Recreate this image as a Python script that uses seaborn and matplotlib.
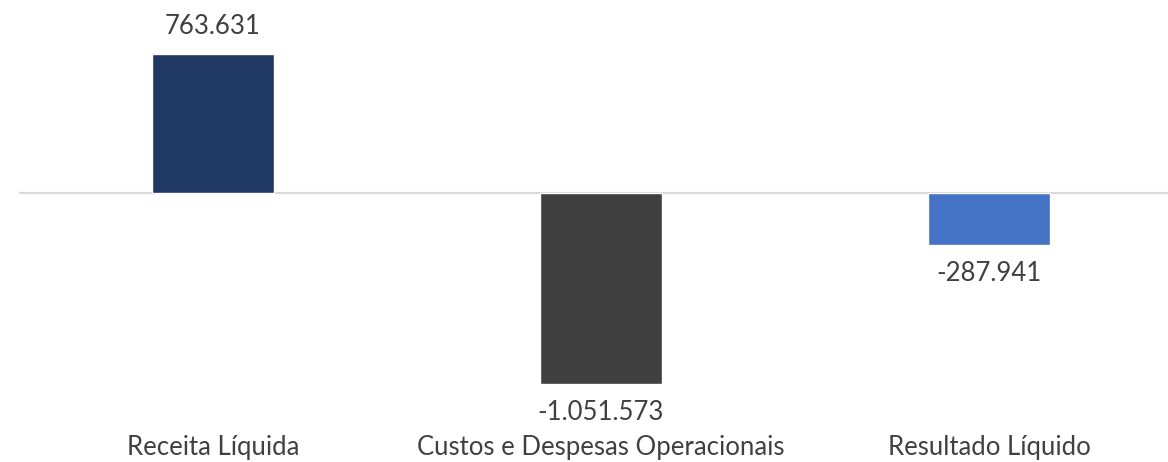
import matplotlib
matplotlib.use("Agg")
import matplotlib.pyplot as plt
import seaborn as sns
import pandas as pd

categories = ["Receita Líquida", "Custos e Despesas Operacionais", "Resultado Líquido"]
values = [763631, -1051573, -287941]
colors = ["#203864", "#404040", "#4472C4"]

text_color = "#404040"


def fmt(v):
    return f"{v:,}".replace(",", ".")


df = pd.DataFrame({"Categoria": categories, "Valor": values})

sns.set_theme(style="white")
plt.rcParams["font.family"] = ["Lato", "DejaVu Sans"]

fig = plt.figure(figsize=(11.68, 4.62), dpi=100)
# axes spans pixel rows 40..400, columns 19..1168
ax = fig.add_axes([19 / 1168, 1 - 400 / 462, 1149 / 1168, 360 / 462])

sns.barplot(data=df, x="Categoria", y="Valor", hue="Categoria",
            palette=colors, order=categories, width=0.314,
            legend=False, ax=ax, saturation=1)

# scale: zero line at 193px, 763631 -> 139px
k = 139 / 763631
ax.set_ylim(-(400 - 193) / k, (193 - 40) / k)
ax.set_xlim(-0.5, -0.5 + 1149 / 388)

ax.axhline(0, color="#d9d9d9", linewidth=1.6, zorder=0)

for i, v in enumerate(values):
    if v >= 0:
        ax.annotate(fmt(v), (i, v), xytext=(0, 11), textcoords="offset points",
                    ha="center", va="bottom", fontsize=18.5, color=text_color)
    else:
        ax.annotate(fmt(v), (i, v), xytext=(0, -11), textcoords="offset points",
                    ha="center", va="top", fontsize=18.5, color=text_color)

for s in ax.spines.values():
    s.set_visible(False)
ax.set_yticks([])
ax.set_xlabel("")
ax.set_ylabel("")
ax.tick_params(axis="x", length=0, pad=25, labelsize=18.5, labelcolor=text_color)

fig.savefig("out.png", dpi=100)
